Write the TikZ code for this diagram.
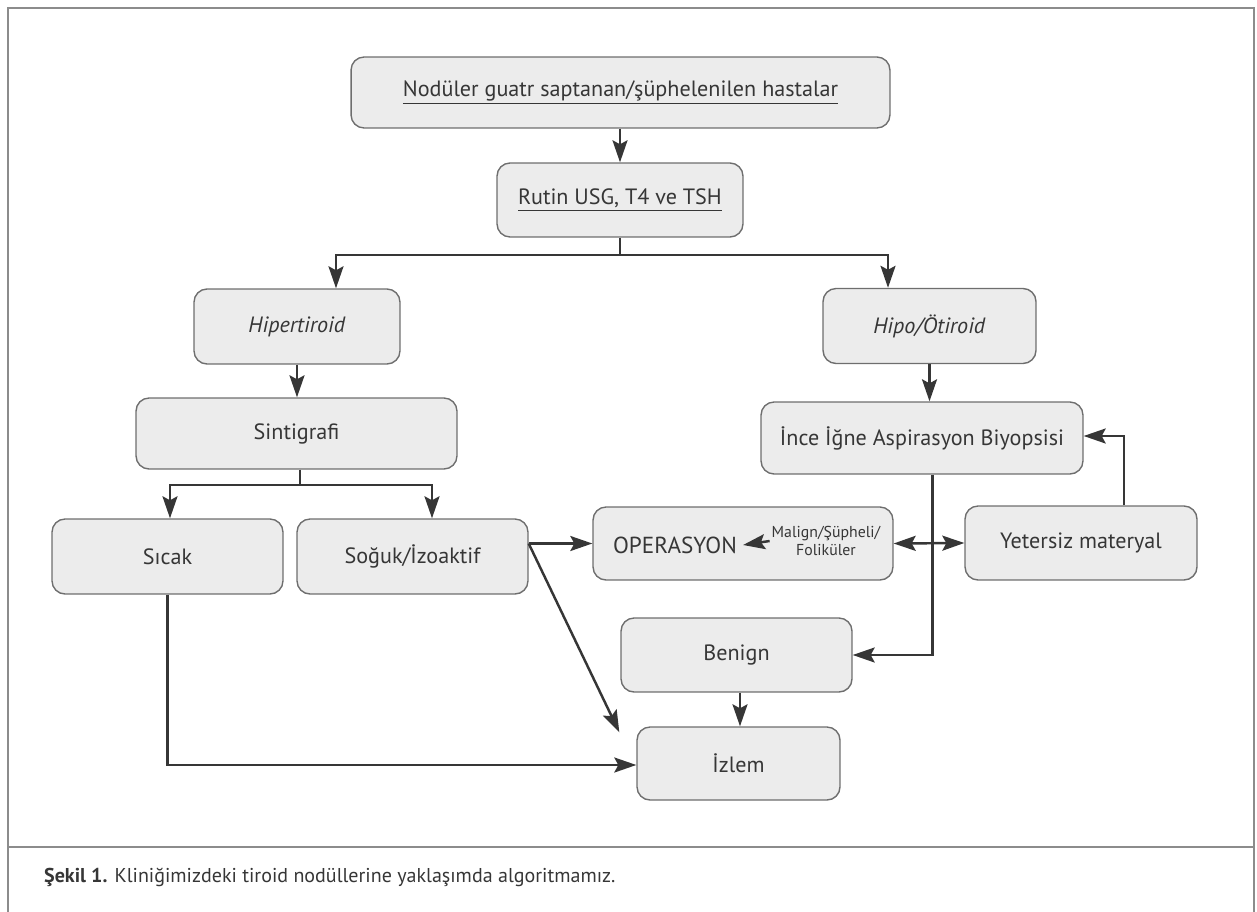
\documentclass[tikz,border=0pt]{standalone}
\usepackage{fontspec}
\setmainfont{PT Sans}
\usepackage{tikz}
\usetikzlibrary{arrows.meta}
\usetikzlibrary{calc}
\definecolor{boxfill}{HTML}{ECECEC}
\definecolor{boxline}{HTML}{6E6E6E}
\definecolor{ink}{HTML}{363636}
\definecolor{frame}{HTML}{8C8C8C}
\tikzset{b/.style={draw=boxline, fill=boxfill, rounded corners=0.26cm, line width=0.8pt, text=ink, align=center, inner sep=0pt, font=\fontsize{12.6}{15}\selectfont}}
\tikzset{c/.style={draw=ink, line width=1.4pt, -{Stealth[length=0.44cm, width=0.3cm, inset=0.08cm]}}}
\tikzset{cc/.style={draw=ink, line width=1.4pt, {Stealth[length=0.44cm, width=0.3cm, inset=0.08cm]}-{Stealth[length=0.44cm, width=0.3cm, inset=0.08cm]}}}
\tikzset{s/.style={font=\fontsize{9}{10.5}\selectfont, text=ink, align=center, inner sep=1pt}}

\begin{document}
\begin{tikzpicture}[x=0.02cm, y=-0.02cm]
        \useasboundingbox (0,0) rectangle (1257,912);
        \draw [frame, line width=1pt] (8,912) -- (8,8) -- (1254,8) -- (1254,912);
        \draw [frame, line width=1pt] (8,847) -- (1254,847);

        \node [b, minimum width=10.78cm, minimum height=1.42cm] (top) at (620.5,92.5) {\underline{Nodüler guatr saptanan/şüphelenilen hastalar}};
        \node [b, minimum width=4.92cm, minimum height=1.48cm] (rutin) at (620,200) {\underline{Rutin USG, T4 ve TSH}};
        \node [b, minimum width=4.12cm, minimum height=1.5cm] (hiper) at (297,326.5) {\textit{Hipertiroid}};
        \node [b, minimum width=4.26cm, minimum height=1.5cm] (hipo) at (929.5,326) {\textit{Hipo/Ötiroid}};
        \node [b, minimum width=6.42cm, minimum height=1.42cm] (sint) at (296.5,433.5) {Sintigrafi};
        \node [b, minimum width=6.44cm, minimum height=1.44cm] (iiab) at (922,438) {İnce İğne Aspirasyon Biyopsisi};
        \node [b, minimum width=4.62cm, minimum height=1.5cm] (sicak) at (167.5,556.5) {Sıcak};
        \node [b, minimum width=4.62cm, minimum height=1.5cm] (soguk) at (412.5,556.5) {Soğuk/İzoaktif};
        \node [b, minimum width=6.0cm, minimum height=1.46cm] (oper) at (743,543.5) {};
        \node [text=ink, font=\fontsize{13.2}{15}\selectfont] (opt) at (675,545) {OPERASYON};
        \node [s] (mal) at (826,541) {Malign/Şüpheli/\\Foliküler};
        \node [b, minimum width=4.64cm, minimum height=1.48cm] (yet) at (1081,543) {Yetersiz materyal};
        \node [b, minimum width=4.62cm, minimum height=1.48cm] (benign) at (736.5,655) {Benign};
        \node [b, minimum width=4.06cm, minimum height=1.46cm] (izlem) at (738.5,763.5) {İzlem};
        \coordinate (rsplit) at (620,255);
        \coordinate (ssplit) at (300,485);

        \draw [c] (top.south -| rutin.north) -- (rutin.north);
        \draw [c] (rutin.south) -- (rsplit) -| ([xshift=0.78cm]hiper.north);
        \draw [c] (rsplit) -| ([xshift=-0.83cm]hipo.north);
        \draw [c] (hiper.south) -- (hiper.south |- sint.north);
        \draw [c] (sint.south -| ssplit) -- (ssplit) -| ([xshift=0.05cm]sicak.north);
        \draw [c] (ssplit) -| ([xshift=0.39cm]soguk.north);
        \draw [c] (soguk.east |- oper.west) -- (oper.west);
        \draw [c] (soguk.east |- oper.west) -- ([xshift=-0.34cm,yshift=-0.12cm]izlem.north west);
        \draw [c] (sicak.south) |- ([yshift=-0.03cm]izlem.west);
        \draw [c] (hipo.south) -- (hipo.south |- iiab.north);
        \draw [c] ([xshift=0.06cm]hipo.south |- iiab.south) |- (benign.east);
        \draw [cc] (oper.east) -- (yet.west);
        \draw [c] ([xshift=0.86cm]yet.north) |- ([yshift=0.04cm]iiab.east);
        \draw [c] ([xshift=0.07cm]benign.south) -- ([xshift=0.07cm]benign.south |- izlem.north);
        \draw [c] (mal.west) -- (opt.east);

        \node [anchor=base west, text=ink, font=\fontsize{11.4}{13}\selectfont] (cap) at (38,882) {\textbf{Şekil 1.} Kliniğimizdeki tiroid nodüllerine yaklaşımda algoritmamız.};
      \end{tikzpicture}
\end{document}
